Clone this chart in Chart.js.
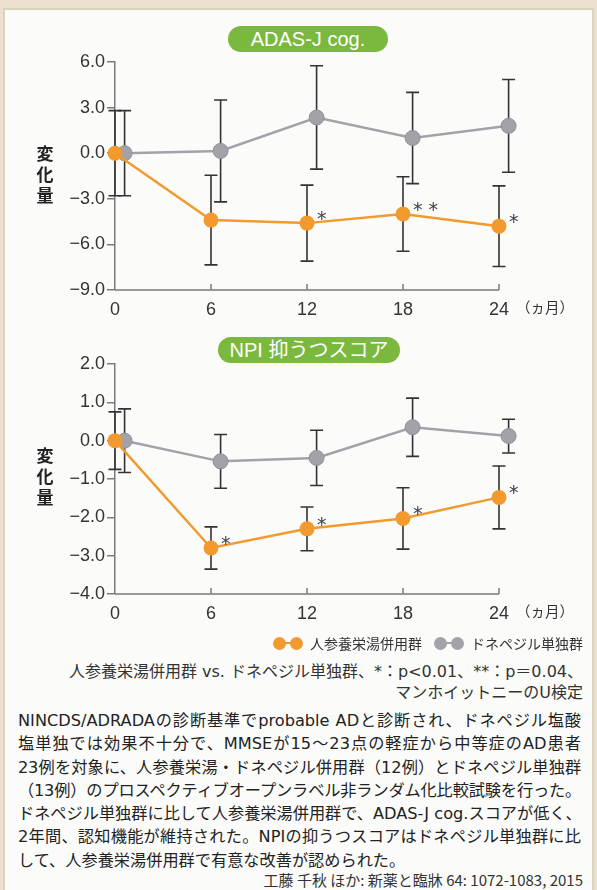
<!DOCTYPE html>
<html lang="ja">
<head>
<meta charset="utf-8">
<script src="https://cdn.jsdelivr.net/npm/chart.js@4.4.1/dist/chart.umd.min.js"></script>
<style>
  html, body { margin: 0; padding: 0; }
  body {
    width: 597px; height: 890px; position: relative; overflow: hidden;
    background: #ecdfd2;
    font-family: "Liberation Sans", "Noto Sans CJK JP", sans-serif; color: #333;
  }
  #panel {
    position: absolute; left: 3px; top: 8px; width: 587px; height: 900px;
    background: #fbfcfa; border: 2px solid #d9d5b8;
  }
  canvas { position: absolute; left: 0; }
  .pill {
    position: absolute; height: 26px; line-height: 26px; border-radius: 13px;
    background: #7bb83e; color: #fff; text-align: center; font-size: 20px;
    font-family: "Liberation Sans", "Noto Sans CJK JP", sans-serif;
  }
  .ylab {
    position: absolute; width: 22px; text-align: center;
    font-family: "Noto Sans CJK JP", sans-serif; font-weight: bold;
    font-size: 17px; line-height: 21px; color: #222;
  }
  .unit {
    position: absolute; font-family: "Noto Sans CJK JP", sans-serif;
    font-size: 14.5px; color: #333;
  }
  #legend {
    position: absolute; right: 14px; top: 632px; height: 22px;
    font-family: "Noto Sans CJK JP", sans-serif; font-size: 14px; color: #333;
    display: flex; align-items: center; white-space: nowrap;
  }
  .lk { position: relative; display: inline-block; width: 30px; height: 13px; margin-right: 7px; }
  .lk i { position: absolute; left: 4px; right: 4px; top: 5.5px; height: 2px; }
  .lk b { position: absolute; top: 0; width: 13px; height: 13px; border-radius: 50%; }
  .lk b.l { left: 0; } .lk b.r { right: 0; }
  .note {
    position: absolute; right: 14px; font-family: "DejaVu Sans", "Noto Sans CJK JP", sans-serif;
    font-size: 16px; color: #333; white-space: nowrap; text-align: right;
  }
  #body {
    position: absolute; left: 18px; top: 709px; width: 563px;
    font-family: "DejaVu Sans", "Noto Sans CJK JP", sans-serif; font-size: 16.2px; line-height: 23.3px; color: #222;
  }
  #body div { text-align: justify; text-align-last: justify; white-space: nowrap; }
  #cite {
    position: absolute; right: 14px; top: 869px; font-family: "Noto Sans CJK JP", sans-serif;
    font-size: 15px; color: #333;
  }
</style>
</head>
<body>
<div id="panel"></div>

<div class="pill" style="left:228px; top:26px; width:160px;">ADAS-J cog.</div>
<canvas id="adas" width="597" height="330" style="top:0px;"></canvas>
<div class="ylab" style="left:34px; top:142px;">変<br>化<br>量</div>
<div class="unit" style="left:516px; top:296px;">（ヵ月）</div>

<div class="pill" style="left:218px; top:337px; width:182px;">NPI 抑うつスコア</div>
<canvas id="npi" width="597" height="300" style="top:330px;"></canvas>
<div class="ylab" style="left:34px; top:444px;">変<br>化<br>量</div>
<div class="unit" style="left:516px; top:600px;">（ヵ月）</div>

<div id="legend">
  <span class="lk"><i style="background:#f29a2e"></i><b class="l" style="background:#f29a2e"></b><b class="r" style="background:#f29a2e"></b></span>
  <span>人参養栄湯併用群</span>
  <span style="display:inline-block;width:12px"></span>
  <span class="lk"><i style="background:#a2a2a8"></i><b class="l" style="background:#a2a2a8"></b><b class="r" style="background:#a2a2a8"></b></span>
  <span>ドネペジル単独群</span>
</div>
<div class="note" style="top:658px;">人参養栄湯併用群 vs. ドネペジル単独群、*：p&lt;0.01、**：p＝0.04、</div>
<div class="note" style="top:679px;">マンホイットニーのU検定</div>

<div id="body">
  <div>NINCDS/ADRADAの診断基準でprobable ADと診断され、ドネペジル塩酸</div>
  <div>塩単独では効果不十分で、MMSEが15～23点の軽症から中等症のAD患者</div>
  <div style="letter-spacing:-0.2px">23例を対象に、人参養栄湯・ドネペジル併用群（12例）とドネペジル単独群</div>
  <div style="letter-spacing:-0.3px">（13例）のプロスペクティブオープンラベル非ランダム化比較試験を行った。</div>
  <div>ドネペジル単独群に比して人参養栄湯併用群で、ADAS-J cog.スコアが低く、</div>
  <div>2年間、認知機能が維持された。NPIの抑うつスコアはドネペジル単独群に比</div>
  <div style="text-align-last:left">して、人参養栄湯併用群で有意な改善が認められた。</div>
</div>
<div id="cite">工藤 千秋 ほか: 新薬と臨牀 64: 1072-1083, 2015</div>

<script>
// Observation months
const months = [0, 6, 12, 18, 24];

// ADAS-J cog. change from baseline (mean, SD)
const adasCombo   = [0, -4.4, -4.6, -4.0, -4.8];
const adasComboSD = [2.8, 2.95, 2.5, 2.45, 2.65];
const adasMono    = [0, 0.15, 2.35, 1.0, 1.8];
const adasMonoSD  = [2.8, 3.35, 3.4, 3.0, 3.05];
const adasMarks   = ['', '', '*', '**', '*'];
const adasTicks   = [6, 3, 0, -3, -6, -9];

// NPI depression score change from baseline (mean, SD)
const npiCombo   = [0, -2.8, -2.3, -2.03, -1.48];
const npiComboSD = [0.75, 0.55, 0.57, 0.8, 0.82];
const npiMono    = [0, -0.54, -0.45, 0.35, 0.12];
const npiMonoSD  = [0.83, 0.7, 0.72, 0.76, 0.44];
const npiMarks   = ['', '*', '*', '*', '*'];
const npiTicks   = [2, 1, 0, -1, -2, -3, -4];

const ORANGE = '#f29a2e';
const GREY = '#a2a2a8';
const AXIS = '#7a7a7a';
const MONO_SHIFT = 0.6;        // donepezil-only points sit slightly right so the bars do not overlap
const X_LAST = months[months.length - 1];
const X_MAX = X_LAST + MONO_SHIFT; // room for the shifted last point

const fmt = v => (v < 0 ? '\u2212' : '') + Math.abs(v).toFixed(1);

// SD whiskers drawn under the markers
const errorBars = {
  id: 'errorBars',
  beforeDatasetsDraw(chart) {
    const { ctx, scales: { y } } = chart;
    ctx.save();
    ctx.strokeStyle = '#333';
    ctx.lineWidth = 1.6;
    chart.data.datasets.forEach((ds, i) => {
      const meta = chart.getDatasetMeta(i);
      meta.data.forEach((pt, j) => {
        const v = ds.data[j].y, sd = ds.sd[j];
        const top = y.getPixelForValue(v + sd), bot = y.getPixelForValue(v - sd);
        const x = pt.x;
        ctx.beginPath();
        ctx.moveTo(x, top); ctx.lineTo(x, bot);
        ctx.moveTo(x - 6.5, top); ctx.lineTo(x + 6.5, top);
        ctx.moveTo(x - 6.5, bot); ctx.lineTo(x + 6.5, bot);
        ctx.stroke();
      });
    });
    ctx.restore();
  }
};

// Significance asterisks next to the combination-therapy points
const sigMarks = {
  id: 'sigMarks',
  afterDatasetsDraw(chart) {
    const { ctx } = chart;
    const ds = chart.data.datasets[0];
    const meta = chart.getDatasetMeta(0);
    ctx.save();
    ctx.fillStyle = '#3a3f4a';
    ctx.font = '19px "DejaVu Sans"';
    ctx.textAlign = 'left';
    ctx.textBaseline = 'alphabetic';
    meta.data.forEach((pt, j) => {
      const m = ds.marks[j];
      if (!m) return;
      ctx.fillText(m.split('').join(' '), pt.x + 10, pt.y + 2);
    });
    ctx.restore();
  }
};

// X axis line (ending at the last month) with short ticks pointing into the plot
const monthAxis = {
  id: 'monthAxis',
  afterDraw(chart) {
    const { ctx, scales: { x }, chartArea } = chart;
    const yb = chartArea.bottom;
    ctx.save();
    ctx.strokeStyle = AXIS;
    ctx.lineWidth = 1.5;
    ctx.beginPath();
    ctx.moveTo(chartArea.left, yb);
    ctx.lineTo(x.getPixelForValue(X_LAST), yb);
    months.forEach(m => {
      if (m === 0) return;
      const px = x.getPixelForValue(m);
      ctx.moveTo(px, yb);
      ctx.lineTo(px, yb - 6);
    });
    ctx.stroke();
    ctx.restore();
  }
};

function makeChart(id, combo, comboSD, mono, monoSD, marks, ticks, padTop, xHeight) {
  const comboPts = months.map((m, i) => ({ x: m, y: combo[i] }));
  const monoPts = months.map((m, i) => ({ x: m + MONO_SHIFT, y: mono[i] }));
  return new Chart(document.getElementById(id), {
    type: 'line',
    data: {
      datasets: [
        {
          label: '人参養栄湯併用群', data: comboPts, sd: comboSD, marks: marks,
          borderColor: ORANGE, backgroundColor: ORANGE, borderWidth: 2.5,
          pointRadius: 7.5, pointBorderWidth: 0, pointBackgroundColor: ORANGE,
          order: 0, clip: false
        },
        {
          label: 'ドネペジル単独群', data: monoPts, sd: monoSD, marks: [],
          borderColor: GREY, backgroundColor: GREY, borderWidth: 2.5,
          pointRadius: 7.5, pointBorderWidth: 1, pointBorderColor: '#8f8f96', pointBackgroundColor: GREY,
          order: 1, clip: false
        }
      ]
    },
    options: {
      responsive: false, animation: false, devicePixelRatio: 1,
      // 16 px per month, with the axis starting at x = 115
      layout: { padding: { top: padTop, right: 597 - (115 + 16 * X_MAX), left: 0, bottom: 0 } },
      plugins: { legend: { display: false }, tooltip: { enabled: false } },
      scales: {
        x: {
          type: 'linear', min: 0, max: X_MAX,
          afterBuildTicks: s => { s.ticks = months.map(v => ({ value: v })); },
          afterFit: s => { s.height = xHeight; },
          grid: { display: true, drawOnChartArea: false, drawTicks: false },
          border: { display: false },
          ticks: { padding: 9, color: '#333', font: { size: 18, family: '"Liberation Sans"' }, maxRotation: 0 }
        },
        y: {
          min: ticks[ticks.length - 1], max: ticks[0],
          afterBuildTicks: s => { s.ticks = ticks.map(v => ({ value: v })); },
          afterFit: s => { s.width = 115; },
          grid: { display: true, drawOnChartArea: false, drawTicks: true, tickLength: 8, color: AXIS, lineWidth: 1.5 },
          border: { color: AXIS, width: 1.5 },
          ticks: { padding: 2, color: '#333', font: { size: 18, family: '"Liberation Sans"' }, callback: v => fmt(v) }
        }
      }
    },
    plugins: [errorBars, sigMarks, monthAxis]
  });
}

makeChart('adas', adasCombo, adasComboSD, adasMono, adasMonoSD, adasMarks, adasTicks, 62, 40);
makeChart('npi', npiCombo, npiComboSD, npiMono, npiMonoSD, npiMarks, npiTicks, 34, 36);
</script>
</body>
</html>
